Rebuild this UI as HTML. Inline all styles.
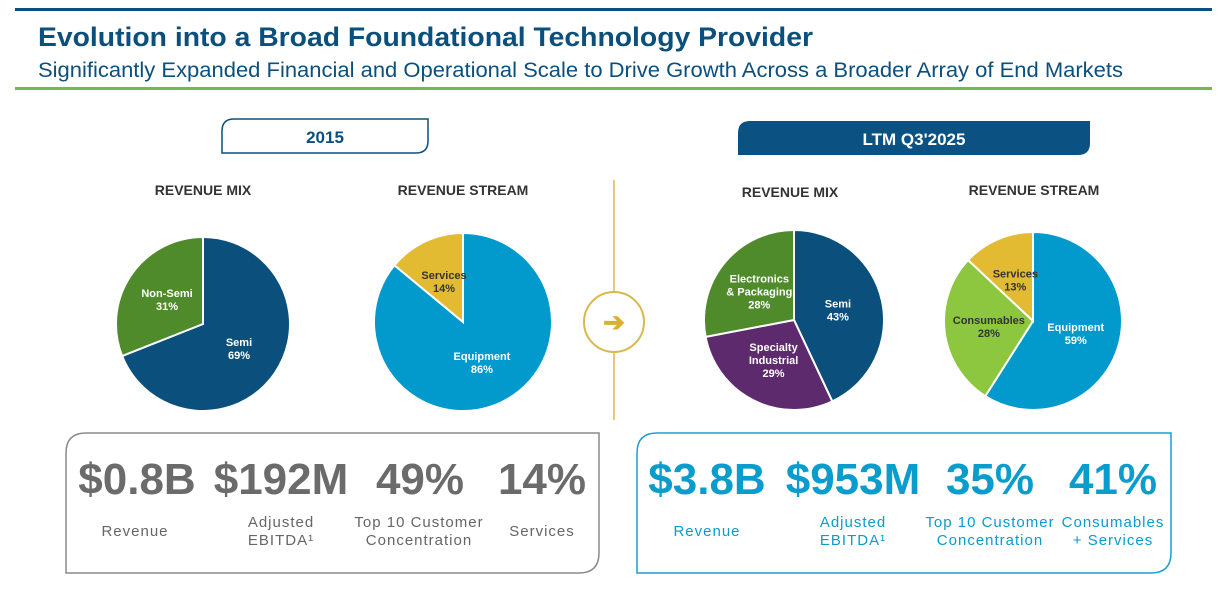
<!DOCTYPE html>
<html><head><meta charset="utf-8"><style>
body{margin:0;width:1227px;height:601px;background:#fff;overflow:hidden;font-family:"Liberation Sans",sans-serif;}
svg{display:block}
</style></head><body>
<svg id="s" width="1227" height="601" viewBox="0 0 1227 601">
<rect x="15" y="8" width="1197" height="3" fill="#0b4f7c"/>
<text x="38" y="46" font-size="27" font-weight="bold" fill="#0b4f7c" textLength="775" lengthAdjust="spacingAndGlyphs">Evolution into a Broad Foundational Technology Provider</text>
<text x="38" y="77" font-size="21" fill="#0b4f7c" textLength="1085" lengthAdjust="spacingAndGlyphs">Significantly Expanded Financial and Operational Scale to Drive Growth Across a Broader Array of End Markets</text>
<rect x="15" y="87" width="1197" height="3" fill="#7ab648"/>
<path d="M234,119 H428 V141 Q428,153 416,153 H222 V131 Q222,119 234,119 Z" fill="#fff" stroke="#0b4f7c" stroke-width="1.5"/>
<text x="325" y="143" font-size="17" font-weight="bold" fill="#0b4f7c" text-anchor="middle">2015</text>
<path d="M750,121 H1090 V143 Q1090,155 1078,155 H738 V133 Q738,121 750,121 Z" fill="#0b5283"/>
<text x="914" y="145" font-size="17" font-weight="bold" fill="#fff" text-anchor="middle">LTM Q3'2025</text>
<g font-size="14" font-weight="bold" fill="#333" text-anchor="middle">
<text x="203" y="195">REVENUE MIX</text>
<text x="463" y="195">REVENUE STREAM</text>
<text x="790" y="197">REVENUE MIX</text>
<text x="1034" y="195">REVENUE STREAM</text>
</g>
<line x1="614" y1="180" x2="614" y2="420" stroke="#d9b84a" stroke-width="1.5"/>
<circle cx="614" cy="322" r="30" fill="#fff" stroke="#d9b84a" stroke-width="2"/>
<text x="614" y="331" font-size="26" font-weight="bold" fill="#d9b030" text-anchor="middle">➔</text>
<g id="pies"></g>
<path d="M86,433 H599 V553 Q599,573 579,573 H66 V453 Q66,433 86,433 Z" fill="none" stroke="#8a8a8a" stroke-width="1.5"/>
<path d="M657,433 H1171 V553 Q1171,573 1151,573 H637 V453 Q637,433 657,433 Z" fill="none" stroke="#1a9fcf" stroke-width="1.5"/>
<g font-size="44" font-weight="bold" fill="#6b6b6b" text-anchor="middle">
<text x="137" y="494">$0.8B</text>
<text x="281" y="494">$192M</text>
<text x="420" y="494">49%</text>
<text x="542" y="494">14%</text>
</g>
<g font-size="44" font-weight="bold" fill="#0a9ccc" text-anchor="middle">
<text x="707" y="494">$3.8B</text>
<text x="853" y="494">$953M</text>
<text x="990" y="494">35%</text>
<text x="1113" y="494">41%</text>
</g>
<g font-size="15" fill="#666" text-anchor="middle" letter-spacing="1">
<text x="135" y="536">Revenue</text>
<text x="281" y="527">Adjusted</text>
<text x="281" y="545">EBITDA¹</text>
<text x="419" y="527">Top 10 Customer</text>
<text x="419" y="545">Concentration</text>
<text x="542" y="536">Services</text>
</g>
<g font-size="15" fill="#0a9ccc" text-anchor="middle" letter-spacing="1">
<text x="707" y="536">Revenue</text>
<text x="853" y="527">Adjusted</text>
<text x="853" y="545">EBITDA¹</text>
<text x="990" y="527">Top 10 Customer</text>
<text x="990" y="545">Concentration</text>
<text x="1113" y="527">Consumables</text>
<text x="1113" y="545">+ Services</text>
</g>
</svg>
<script>
const mix2015Labels = [["Semi"], ["Non-Semi"]];
const mix2015Values = [69, 31];
const stream2015Labels = [["Equipment"], ["Services"]];
const stream2015Values = [86, 14];
const mixLtmLabels = [["Semi"], ["Specialty","Industrial"], ["Electronics","& Packaging"]];
const mixLtmValues = [43, 29, 28];
const streamLtmLabels = [["Equipment"], ["Consumables"], ["Services"]];
const streamLtmValues = [59, 28, 13];

const NS = "http://www.w3.org/2000/svg";
const g = document.getElementById('pies');
function pie(name, cx, cy, r, labels, values, colors, textColors) {
  const total = values.reduce((a,b)=>a+b,0);
  let a0 = 0;
  const pt = (a, rr) => [cx + rr*Math.sin(a), cy - rr*Math.cos(a)];
  values.forEach((v,i)=>{
    const a1 = a0 + v/total*2*Math.PI;
    const [x0,y0] = pt(a0,r), [x1,y1] = pt(a1,r);
    const large = (a1-a0) > Math.PI ? 1 : 0;
    const p = document.createElementNS(NS,'path');
    p.setAttribute('d', `M${cx},${cy} L${x0},${y0} A${r},${r} 0 ${large} 1 ${x1},${y1} Z`);
    p.setAttribute('fill', colors[i]);
    p.setAttribute('stroke', '#fff');
    p.setAttribute('stroke-width', '2');
    
    
    g.appendChild(p);
    const mid = (a0+a1)/2;
    const [lx,ly] = pt(mid, r*0.5);
    const lines = labels[i].concat([v + '%']);
    const t = document.createElementNS(NS,'text');
    t.setAttribute('text-anchor','middle');
    t.setAttribute('font-size','11');
    t.setAttribute('font-weight','bold');
    t.setAttribute('fill', textColors[i]);
    
    
    lines.forEach((ln,k)=>{
      const ts = document.createElementNS(NS,'tspan');
      ts.setAttribute('x', lx);
      ts.setAttribute('y', ly + (k - (lines.length-1)/2)*13 + 4);
      ts.textContent = ln;
      t.appendChild(ts);
    });
    g.appendChild(t);
    a0 = a1;
  });
}
pie('mix-2015', 203, 324, 87, mix2015Labels, mix2015Values, ['#0b4f7c','#4f8a2b'], ['#fff','#fff']);
pie('stream-2015', 463, 322, 89, stream2015Labels, stream2015Values, ['#0299cc','#e2bb32'], ['#fff','#333']);
pie('mix-ltm', 794, 320, 90, mixLtmLabels, mixLtmValues, ['#0b4f7c','#5d2a6e','#4f8a2b'], ['#fff','#fff','#fff']);
pie('stream-ltm', 1033, 321, 89, streamLtmLabels, streamLtmValues, ['#0299cc','#8dc63f','#e2bb32'], ['#fff','#333','#333']);
</script>
</body></html>
